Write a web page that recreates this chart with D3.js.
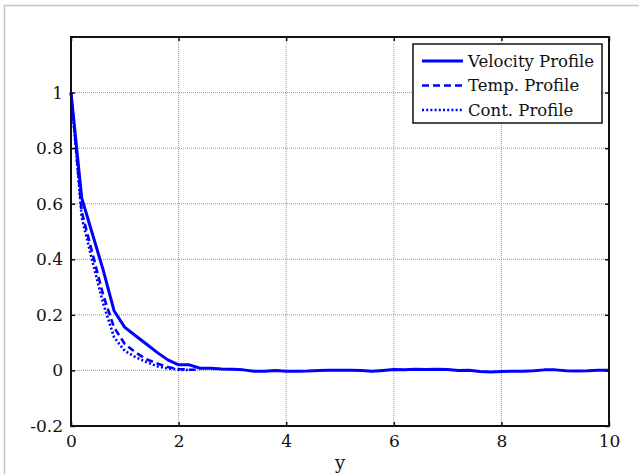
<!DOCTYPE html>
<html>
<head>
<meta charset="utf-8">
<script src="https://cdn.jsdelivr.net/npm/d3@7"></script>
<style>
  body { margin: 0; background: #fff; }
  text { font-family: "DejaVu Serif", "Liberation Serif", serif; }
</style>
</head>
<body>
<div id="chart"></div>
<script>
// sampled every 0.2 along y
const xs = d3.range(0, 10.0001, 0.2).map((d) => +d.toFixed(1));

const velocity = [1, 0.62, 0.49, 0.36, 0.215, 0.155, 0.125, 0.095, 0.065, 0.038,
    0.02, 0.02, 0.008, 0.008, 0.005, 0.004, 0.002, -0.003, -0.003, 0.0,
    -0.003, -0.003, -0.002, 0.0, 0.001, 0.001, 0.001, 0.0, -0.003, 0.0,
    0.003, 0.002, 0.004, 0.003, 0.004, 0.003, 0.0, 0.001, -0.004, -0.006,
    -0.004, -0.003, -0.003, -0.001, 0.002, 0.002, -0.001, -0.002, -0.001, 0.001,
    0.001];
const temp = [1, 0.57, 0.42, 0.27, 0.155, 0.095, 0.065, 0.04, 0.025, 0.012,
    0.005, 0.003, 0.002];
const cont = [1, 0.55, 0.39, 0.24, 0.12, 0.07, 0.048, 0.03, 0.015, 0.007,
    0.003, 0.001];

const xTicks = [0, 2, 4, 6, 8, 10];
const yTicks = [-0.2, 0, 0.2, 0.4, 0.6, 0.8, 1];

const series = [
    { name: "Velocity Profile", values: velocity, dash: null, width: 3 },
    { name: "Temp. Profile", values: temp, dash: "7,4", width: 2.6 },
    { name: "Cont. Profile", values: cont, dash: "2,2.2", width: 2.6 }
];

const width = 639;
const height = 474;
const mLeft = 71, mRight = 609, mTop = 37, mBottom = 426;

const x = d3.scaleLinear().domain([0, 10]).range([mLeft, mRight]);
const y = d3.scaleLinear().domain([-0.2, 1.2]).range([mBottom, mTop]);

const svg = d3.select("#chart")
    .append("svg")
    .attr("width", width)
    .attr("height", height);

// figure frame
svg.append("path")
    .attr("d", `M4.5,474V5.5H639`)
    .attr("fill", "none")
    .attr("stroke", "#c4c4c4")
    .attr("stroke-width", 1.5);

// grid
svg.append("g")
    .selectAll("line")
    .data(xTicks.slice(1, -1))
    .enter()
    .append("line")
    .attr("x1", (d) => x(d)).attr("x2", (d) => x(d))
    .attr("y1", mTop).attr("y2", mBottom)
    .attr("stroke", "#999")
    .attr("stroke-width", 1)
    .attr("stroke-dasharray", "1,1");

svg.append("g")
    .selectAll("line")
    .data(yTicks.slice(1))
    .enter()
    .append("line")
    .attr("x1", mLeft).attr("x2", mRight)
    .attr("y1", (d) => y(d)).attr("y2", (d) => y(d))
    .attr("stroke", "#999")
    .attr("stroke-width", 1)
    .attr("stroke-dasharray", "1,1");

// curves
const line = d3.line()
    .x((d, i) => x(xs[i]))
    .y((d) => y(d));

series.forEach((s) => {
    svg.append("path")
        .datum(s.values)
        .attr("d", line)
        .attr("fill", "none")
        .attr("stroke", "#0000ff")
        .attr("stroke-width", s.width)
        .attr("stroke-linejoin", "round")
        .attr("stroke-dasharray", s.dash);
});

// axes
const fmt = (d) => (d === 0 ? "0" : String(+d.toFixed(1)));

svg.append("g")
    .attr("transform", `translate(0,${mBottom})`)
    .call(d3.axisBottom(x).tickValues(xTicks).tickSize(-4).tickPadding(9).tickFormat(fmt))
    .call((g) => g.select(".domain").remove())
    .call((g) => g.selectAll("text").style("font-size", "17px").attr("fill", "#111"))
    .call((g) => g.selectAll("line").attr("stroke", "#111").attr("stroke-width", 1.5));

svg.append("g")
    .attr("transform", `translate(0,${mTop})`)
    .call(d3.axisTop(x).tickValues(xTicks).tickSize(-4).tickFormat(""))
    .call((g) => g.select(".domain").remove())
    .call((g) => g.selectAll("line").attr("stroke", "#111").attr("stroke-width", 1.5));

svg.append("g")
    .attr("transform", `translate(${mLeft},0)`)
    .call(d3.axisLeft(y).tickValues(yTicks).tickSize(-4).tickPadding(8).tickFormat(fmt))
    .call((g) => g.select(".domain").remove())
    .call((g) => g.selectAll("text").style("font-size", "17px").attr("fill", "#111"))
    .call((g) => g.selectAll("line").attr("stroke", "#111").attr("stroke-width", 1.5));

svg.append("g")
    .attr("transform", `translate(${mRight},0)`)
    .call(d3.axisRight(y).tickValues(yTicks).tickSize(-4).tickFormat(""))
    .call((g) => g.select(".domain").remove())
    .call((g) => g.selectAll("line").attr("stroke", "#111").attr("stroke-width", 1.5));

svg.append("rect")
    .attr("x", mLeft).attr("y", mTop)
    .attr("width", mRight - mLeft).attr("height", mBottom - mTop)
    .attr("fill", "none")
    .attr("stroke", "#111")
    .attr("stroke-width", 2);

svg.append("text")
    .attr("x", (mLeft + mRight) / 2)
    .attr("y", 469)
    .attr("text-anchor", "middle")
    .style("font-size", "18px")
    .attr("fill", "#111")
    .text("y");

// legend
const legend = svg.append("g").attr("transform", "translate(413,44)");
legend.append("rect")
    .attr("width", 189).attr("height", 79)
    .attr("fill", "#fff")
    .attr("stroke", "#111")
    .attr("stroke-width", 1.5);

const row = legend.selectAll(".row")
    .data(series)
    .enter()
    .append("g")
    .attr("class", "row")
    .attr("transform", (d, i) => `translate(0,${17 + i * 24.5})`);

row.append("line")
    .attr("x1", 9).attr("x2", 50)
    .attr("stroke", "#0000ff")
    .attr("stroke-width", (d) => d.width)
    .attr("stroke-dasharray", (d) => d.dash);

row.append("text")
    .attr("x", 55)
    .attr("dy", "0.35em")
    .style("font-size", "16.5px")
    .attr("fill", "#111")
    .text((d) => d.name);
</script>
</body>
</html>
